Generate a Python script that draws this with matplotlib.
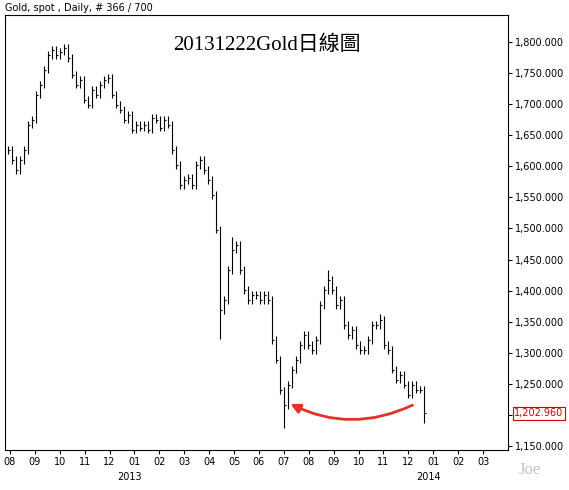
import matplotlib
matplotlib.use("Agg")
import matplotlib.pyplot as plt
import numpy as np

# closes sampled roughly every 3-4 trading days, Aug 2012 - Dec 2013
closes = [1626,1610,1594,1610,1626,1667,1675,1715,1731,1755,1779,1787,1779,1784,1790,1774,1747,1731,1739,1707,
          1699,1723,1715,1731,1739,1742,1715,1699,1691,1675,1683,1659,1667,1662,1667,1659,1678,1675,1662,1675,
          1667,1626,1602,1570,1578,1581,1570,1602,1610,1594,1578,1554,1498,1369,1385,1433,1466,1474,1433,1401,
          1385,1393,1393,1385,1393,1385,1321,1289,1240,1216,1249,1273,1289,1313,1329,1313,1305,1321,1377,1401,
          1417,1401,1377,1385,1345,1329,1337,1313,1305,1305,1321,1345,1345,1353,1313,1305,1273,1257,1265,1249,
          1233,1249,1241,1241,1203]
spike_lows = {53: 1322, 69: 1180, 104: 1187}
spike_highs = {14: 1797, 56: 1487, 80: 1434, 93: 1362}
months = ["08","09","10","11","12","01","02","03","04","05","06","07","08","09","10","11","12","01","02","03"]
years = {"2013": 4.8, "2014": 16.8}
last_price = "1,202.960"

W, H = 569, 490
fig = plt.figure(figsize=(W/100, H/100), dpi=100)
ax = fig.add_axes([5/W, 1-450/H, 503/W, 435/H])
step = 4/24.9
x0 = (8-10)/24.9
xs = [x0 + i*step for i in range(len(closes))]
prev = closes[0]
for i, c in enumerate(closes):
    lo = min(prev, c) - 6
    hi = max(prev, c) + 6
    lo = spike_lows.get(i, lo)
    hi = spike_highs.get(i, hi)
    ax.vlines(xs[i], lo, hi, color='black', lw=0.8)
    ax.hlines(c, xs[i], xs[i]+step*0.4, color='black', lw=0.8)
    prev = c

ax.set_xlim(-0.2, 20.0)
ax.set_ylim(1144, 1843)
ax.yaxis.tick_right()
yt = np.arange(1150, 1801, 50)
ax.set_yticks(yt)
ax.set_yticklabels([f"{v:,}.000" for v in yt], fontsize=7)
ax.set_xticks(range(len(months)))
ax.set_xticklabels(months, fontsize=7)
ax.tick_params(length=3, pad=2)
for k, v in years.items():
    ax.text(v, -0.07, k, transform=ax.get_xaxis_transform(), fontsize=7, ha='center')
ax.text(1.012, (1203-1144)/(1843-1144), last_price, transform=ax.transAxes, fontsize=7,
        color='#cc0000', va='center', ha='left',
        bbox=dict(boxstyle='square,pad=0.15', fc='white', ec='#cc0000', lw=0.8))
ax.annotate("", xy=((288-10)/24.9, 1220), xytext=((415-10)/24.9, 1218),
            arrowprops=dict(arrowstyle='-|>', color='#e8302a', lw=2, connectionstyle='arc3,rad=-0.25',
                            mutation_scale=14))
fig.text(5/W, 1-8/H, "Gold, spot , Daily, # 366 / 700", fontsize=7, va='center')
ax.text(0.52, 0.93, "20131222Gold日線圖", transform=ax.transAxes, fontsize=15, ha='center', va='center',
        family=['Liberation Serif', 'Noto Sans CJK TC'])
fig.text(530/W, 1-470/H, "Joe", fontsize=12, color='#c0c0c0', ha='center', va='center',
         family=['Liberation Serif'])
fig.savefig("out.png", dpi=100)
